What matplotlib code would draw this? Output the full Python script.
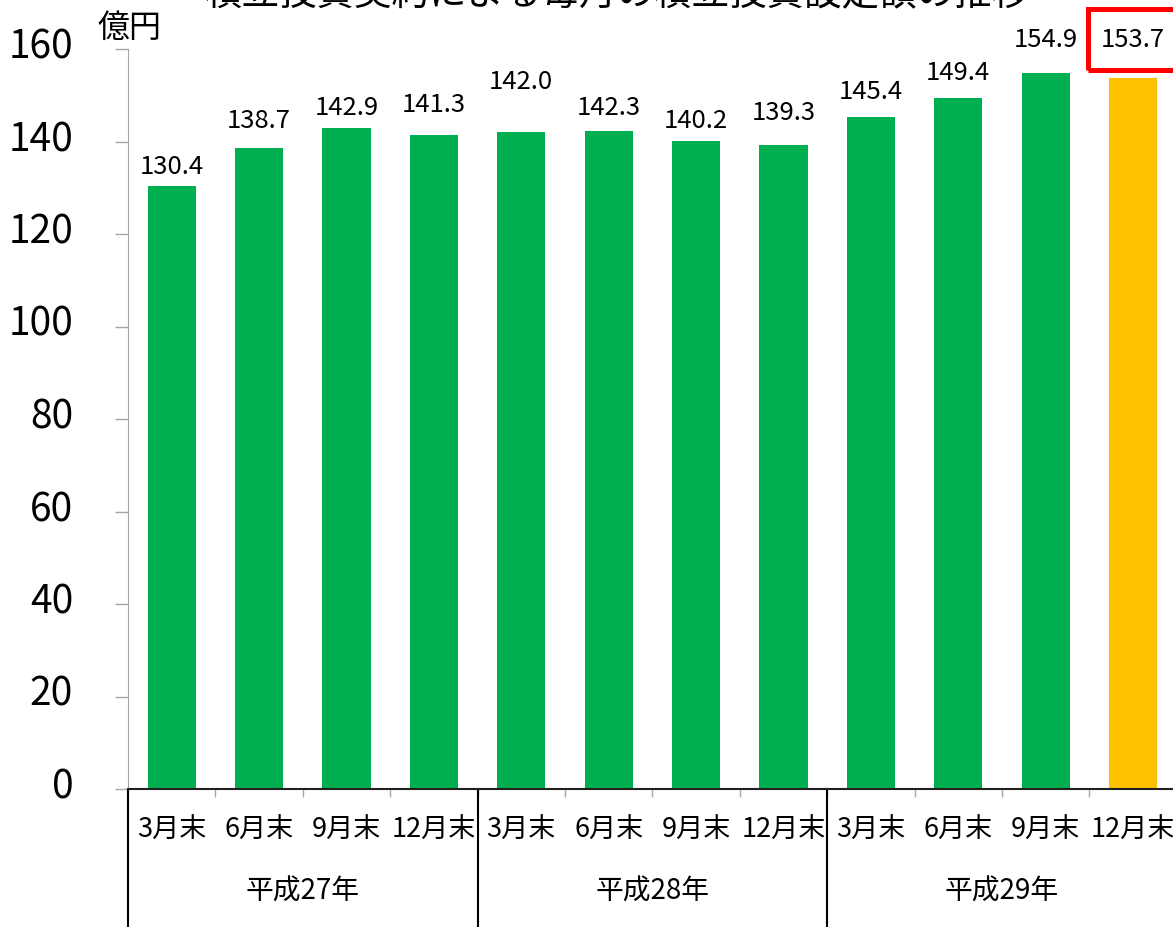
import matplotlib
matplotlib.use('Agg')
import matplotlib.pyplot as plt
import matplotlib.transforms as mtransforms
from matplotlib.patches import Rectangle
import numpy as np

plt.rcParams['font.family'] = ['Noto Sans CJK JP', 'DejaVu Sans']

# data
title = '積立投資契約による毎月の積立投資設定額の推移'
unit = '億円'
months = ['3月末', '6月末', '9月末', '12月末'] * 3
years = ['平成27年', '平成28年', '平成29年']
values = [130.4, 138.7, 142.9, 141.3,
          142.0, 142.3, 140.2, 139.3,
          145.4, 149.4, 154.9, 153.7]
# label offsets above bar top (pixels), as placed in the original
label_offsets = [19, 27, 20, 30, 50, 23, 20, 32, 25, 25, 33, 38]

green = '#00B050'
orange = '#FFC000'
colors = [green] * 11 + [orange]

W, H = 1173, 927
fig = plt.figure(figsize=(W / 100, H / 100), dpi=100)
ax = fig.add_axes([128 / W, 138 / H, 12 * 87.4 / W, 740 / H])

x = np.arange(len(values))
ax.bar(x, values, width=0.55, color=colors, zorder=2)

# data labels
for xi, v, off in zip(x, values, label_offsets):
    ax.annotate(f'{v:.1f}', (xi, v), xytext=(0, off * 0.72), textcoords='offset points',
                ha='center', va='center', fontsize=18.5)

ax.set_xlim(-0.5, 11.5)
ax.set_ylim(0, 160)
ax.set_yticks(range(0, 161, 20))
ax.tick_params(axis='y', labelsize=28, length=9.5, width=1, color='#A6A6A6', pad=30)
# y labels sit slightly above their ticks in the original
shift = mtransforms.ScaledTranslation(0, 6 / 100, fig.dpi_scale_trans)
for lbl in ax.get_yticklabels():
    lbl.set_transform(lbl.get_transform() + shift)

ax.set_xticks(x)
ax.set_xticklabels(months, fontsize=19.5)
ax.tick_params(axis='x', which='major', length=0, pad=20)
ax.set_xticks(np.arange(0.5, 11, 1), minor=True)
ax.tick_params(axis='x', which='minor', length=6, width=1, color='#A6A6A6', direction='out')

for s in ['top', 'right']:
    ax.spines[s].set_visible(False)
ax.spines['left'].set_color('#A6A6A6')
ax.spines['bottom'].set_color('#202020')
ax.spines['bottom'].set_linewidth(1.5)

# year groups
trans = mtransforms.blended_transform_factory(ax.transData, ax.transAxes)
for b in [-0.5, 3.5, 7.5, 11.5]:
    ax.plot([b, b], [0, -0.25], transform=trans, color='black', lw=1.5, clip_on=False)
for i, y in enumerate(years):
    ax.text(i * 4 + 1.5, -0.139, y, transform=trans, ha='center', va='center', fontsize=20)

# unit label
fig.text(98 / W, 1 - 28 / H, unit, ha='left', va='center', fontsize=23)

# title (cut off at top in the original)
fig.text(617 / W, 1 - 5 / H, title, ha='center', va='baseline', fontsize=27)

# red highlight box
fig.patches.append(Rectangle((1087.5 / W, 1 - 69.5 / H), 120 / W, 60 / H,
                             transform=fig.transFigure, fill=False,
                             edgecolor='#FF0000', lw=3.6))

fig.savefig('out.png', dpi=100)
